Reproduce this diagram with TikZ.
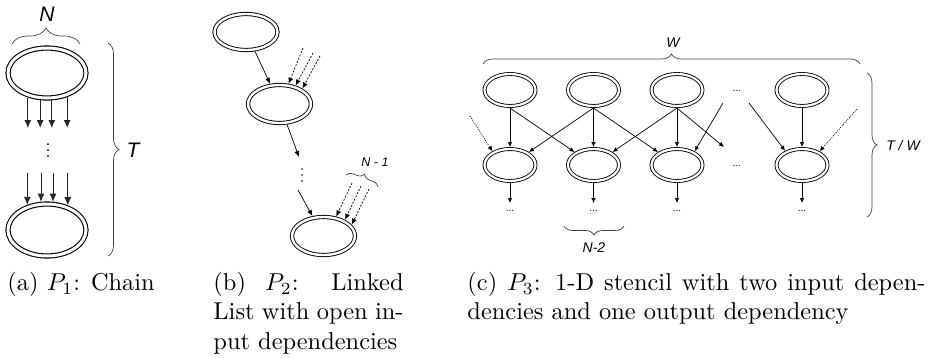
\documentclass[tikz,border=0pt]{standalone}
\usepackage{fontspec}
\newfontfamily\hv{Liberation Sans}
\usetikzlibrary{shapes.geometric,arrows.meta,decorations.pathreplacing}
\begin{document}
\begin{tikzpicture}[x=1pt,y=-1pt,
  ell/.style={ellipse, draw=black, double, inner sep=0pt},
  ella/.style={ell, line width=1.1pt, double distance=3pt, outer sep=2.6pt, minimum width=78pt, minimum height=50pt},
  ellb/.style={ell, line width=0.9pt, double distance=2.4pt, outer sep=2.1pt, minimum width=63pt, minimum height=38pt},
  ellc/.style={ell, line width=0.85pt, double distance=2.2pt, outer sep=2pt, minimum width=51pt, minimum height=32pt},
  arra/.style={-{Latex[length=8pt,width=7pt]}, line width=0.9pt, draw=black!85},
  arrb/.style={-{Latex[length=6pt,width=5pt]}, line width=0.7pt},
  arrc/.style={-{Latex[length=5pt,width=4.5pt]}, line width=0.7pt},
  dsh/.style={dash pattern=on 2pt off 1.5pt},
  dtt/.style={dash pattern=on 1pt off 1.2pt},
  brc/.style={decorate, decoration={brace, amplitude=#1}, draw=black!75, line width=0.7pt},
  lbl/.style={font=\hv\itshape\fontsize{#1}{#1}\selectfont, inner sep=0pt},
  captxt/.style={scale=2.44, anchor=north west, inner sep=0pt, align=left, font=\fontsize{10}{12}\selectfont},
  dotsl/.style={font=\hv\fontsize{10}{10}\selectfont, inner sep=0pt},
]
\useasboundingbox (0,0) rectangle (930,357);

% ---------- panel (a)
\node[ella] (a1) at (47,73) {};
\node[ella, minimum height=52pt] (a2) at (47,230) {};
\coordinate (ae) at (0,128);
\coordinate (as) at (0,173);
\foreach \t in {232,256,280,310} \draw[arra] (a1.\t) -- (a1.\t |- ae);
\foreach \t in {128,102,78,50} \draw[arra] (a2.\t |- as) -- (a2.\t);
\foreach \y in {144,150,156} \fill (48,\y) circle (1pt);
\draw[brc=16] (12,44) -- (80,44);
\node[lbl=21] (nN) at (47,14) {N};
\draw[brc=11] (108,43) -- (108,256);
\node[lbl=21] (nT) at (133,150) {T};
\node[captxt] (capa) at (7,271.7) {(a) $P_1$: Chain};

% ---------- panel (b)
\node[ellb, minimum height=36pt] (b1) at (246,32) {};
\node[ellb] (b2) at (279.5,104) {};
\node[ellb] (b3) at (323.5,236) {};
\draw[arrb] (b1) -- (b2);
\coordinate (bd1) at (299,157);
\draw[arrb] (b2) -- (bd1);
\foreach \y in {169,175,181} \fill (302,\y) circle (0.9pt);
\coordinate (bd2) at (298,190);
\draw[arrb] (bd2) -- (b3);
\coordinate (p1) at (303,48);
\coordinate (p2) at (313,53);
\coordinate (p3) at (320,56);
\draw[arrb,dsh] (p1) -- (b2.66);
\draw[arrb,dsh] (p2) -- (b2.49);
\draw[arrb,dsh] (p3) -- (b2.34);
\coordinate (q1) at (352,183);
\coordinate (q2) at (361,186);
\coordinate (q3) at (369,189);
\draw[arrb,dsh] (q1) -- (b3.57);
\draw[arrb,dsh] (q2) -- (b3.37);
\draw[arrb,dsh] (q3) -- (b3.22);
\draw[brc=7] (346,175) -- (378,187);
\node[lbl=12.5] (nN1) at (375,162) {N - 1};
\node[captxt] (capb) at (213,271.7) {\makebox[77.9pt][s]{(b) $P_2$: Linked}\\ \makebox[77.9pt][s]{List with open in-}\\ put dependencies};

% ---------- panel (c)
\foreach \i/\x in {1/510,2/593.5,3/677,4/802} {
  \node[ellc] (e\i) at (\x,90) {};
  \node[ellc] (f\i) at (\x,165) {};
  \coordinate (o\i) at (\x,203);
  \draw[arrc] (e\i) -- (f\i);
  \draw[arrc] (f\i) -- (o\i);
  \node[dotsl] (d\i) at (\x,211) {...};
}
\draw[arrc] (e1.south) -- (f2);
\draw[arrc] (e2.south) -- (f1);
\draw[arrc] (e2.south) -- (f3);
\draw[arrc] (e3.south) -- (f2);
\coordinate (c1) at (724,147);
\draw[arrc] (e3.south) -- (c1);
\coordinate (c2) at (723,103);
\draw[arrc] (c2) -- (f3.38);
\coordinate (c3) at (749,103);
\draw[arrc] (c3) -- (f4.140);
\coordinate (c4) at (857,109);
\draw[arrc,dtt] (c4) -- (f4.38);
\coordinate (c5) at (470,116);
\draw[arrc,dtt] (c5) -- (f1.142);
\node[dotsl] (m1) at (737,91) {...};
\node[dotsl] (m2) at (737,166) {...};
\draw[brc=10] (483,64) -- (860,64);
\node[lbl=14] (nW) at (673,43) {W};
\draw[brc=10] (867,73) -- (867,217);
\node[lbl=14] (nTW) at (903,145) {T / W};
\draw[brc=9] (624,226) -- (564,226);
\node[lbl=14] (nN2) at (594,248) {N-2};
\node[captxt] (capc) at (467,271.7) {\makebox[187.7pt][s]{(c) $P_3$: 1-D stencil with two input depen-}\\ dencies and one output dependency};
\end{tikzpicture}
\end{document}
